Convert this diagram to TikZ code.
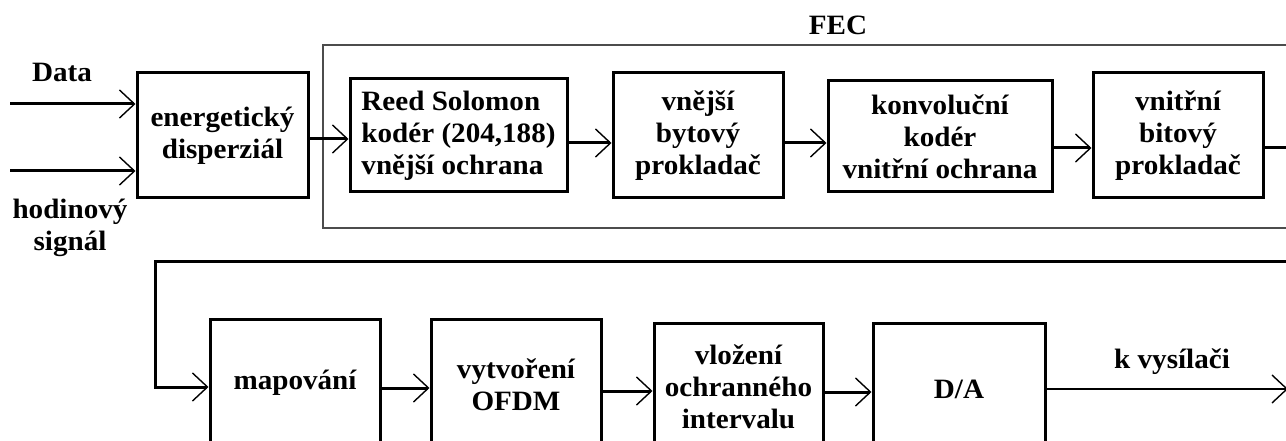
\documentclass[tikz,border=0pt]{standalone}
\usepackage{fontspec}
\setmainfont[FakeStretch=1.04]{Liberation Serif}
\usetikzlibrary{arrows.meta}
\tikzset{
  blk/.style={draw=black, line width=3pt, inner sep=0pt, align=center,
    font=\fontsize{28}{32}\selectfont\bfseries},
  lbl/.style={inner sep=0pt, align=center, font=\fontsize{28}{32}\selectfont\bfseries},
  conn/.style={draw=black, line width=3pt,
    -{Straight Barb[length=15pt,width=28pt,line width=1.4pt]}},
  group/.style={draw=black!70, line width=1.5pt}
}
\begin{document}
\begin{tikzpicture}[x=1pt,y=-1pt]
\useasboundingbox[fill=white] (0,0) rectangle (1286,441);
\clip (0,0) rectangle (1286,441);
% FEC group frame
\draw[group] (1300,45) -- (323,45) -- (323,228) -- (1300,228);
\node[lbl] (fec) at (838,25) {FEC};
% top row
\node[blk, minimum width=171pt, minimum height=125pt] (energ) at (222.5,135.5) {energetický\\disperziál};
\node[blk, minimum width=217pt, minimum height=113pt, align=left] (rs) at (458.5,135.5) {Reed Solomon\\kodér (204,188)\\vnější ochrana};
\node[blk, minimum width=170pt, minimum height=125pt] (vbp) at (698,135.5) {vnější\\bytový\\prokladač};
\node[blk, minimum width=224pt, minimum height=111pt] (konv) at (940,136.5) {konvoluční\\kodér\\vnitřní ochrana};
\node[blk, minimum width=170pt, minimum height=125pt] (vnbp) at (1178,135.5) {vnitřní\\bitový\\prokladač};
% bottom row
\node[blk, minimum width=170pt, minimum height=128pt] (map) at (295,383) {mapování};
\node[blk, minimum width=170pt, minimum height=132pt] (vytv) at (516,385) {vytvoření\\OFDM};
\node[blk, minimum width=169pt, minimum height=128pt] (vloz) at (738.5,387) {vložení\\ochranného\\intervalu};
\node[blk, minimum width=172pt, minimum height=132pt] (da) at (959,389) {D/A};
% labels
\node[lbl] (data) at (62,72) {Data};
\node[lbl] (hod) at (70,228) {hodinový\\signál};
\node[lbl] (kvys) at (1172,362) {k vysílači};
% coordinates
\coordinate (din) at (10,104);
\coordinate (hin) at (10,171);
\coordinate (y1) at (0,139);
\coordinate (y2) at (0,143);
\coordinate (y3) at (0,148);
\coordinate (r1) at (1300,148);
\coordinate (r2) at (1300,261);
\coordinate (l1) at (155,261);
\coordinate (y4) at (0,387);
\coordinate (y5) at (0,388);
\coordinate (y6) at (0,391);
\coordinate (y7) at (0,392);
\coordinate (out) at (1288,389);
% connectors
\draw[conn] (din) -- (din -| energ.west);
\draw[conn] (hin) -- (hin -| energ.west);
\draw[conn] (energ.east |- y1) -- (rs.west |- y1);
\draw[conn] (rs.east |- y2) -- (vbp.west |- y2);
\draw[conn] (vbp.east |- y2) -- (konv.west |- y2);
\draw[conn] (konv.east |- y3) -- (vnbp.west |- y3);
\draw[conn] (vnbp.east |- y3) -- (r1) -- (r2) -- (l1) -- (l1 |- y4) -- (map.west |- y4);
\draw[conn] (map.east |- y5) -- (vytv.west |- y5);
\draw[conn] (vytv.east |- y6) -- (vloz.west |- y6);
\draw[conn] (vloz.east |- y7) -- (da.west |- y7);
\draw[conn, line width=2.4pt] (da.east |- out) -- (out);
\end{tikzpicture}
\end{document}
